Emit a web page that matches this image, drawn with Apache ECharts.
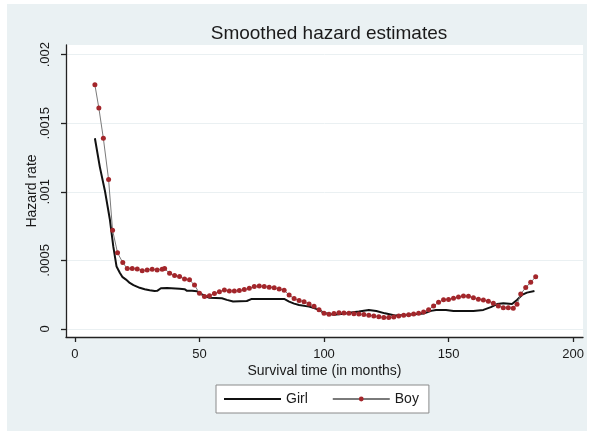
<!DOCTYPE html>
<html>
<head>
<meta charset="utf-8">
<script src="https://cdn.jsdelivr.net/npm/echarts@6/dist/echarts.min.js"></script>
<style>
html,body{margin:0;padding:0;background:#fff;}
#c{width:594px;height:431px;}
</style>
</head>
<body>
<div id="c"></div>
<script>
// ---- data ----
var titleText = 'Smoothed hazard estimates';
var xName = 'Survival time (in months)';
var yName = 'Hazard rate';
var seriesNames = ['Girl', 'Boy'];
var xTicks = [0, 50, 100, 150, 200];
var xTickLabels = ['0', '50', '100', '150', '200'];
var yTicks = [0, 0.0005, 0.001, 0.0015, 0.002];
var yTickLabels = ['0', '.0005', '.001', '.0015', '.002'];

var girlT = [8, 10, 12, 14, 15.4, 16.7, 18, 19, 20.5, 22, 23.5, 26, 28, 30, 32, 33, 34.5, 37, 42, 44, 45, 47, 49, 50, 51.5, 53, 54, 59, 61, 63.5, 69, 71, 84, 86, 88, 90, 94, 96, 98, 100, 104, 108, 111, 114, 118, 121, 124.5, 128.5, 132.5, 140, 143, 145, 149, 152, 160, 164, 167, 169.5, 172, 175.5, 177.5, 179.5, 181.5, 184.5];
var girlH = [0.00139, 0.00118, 0.00101, 0.0008, 0.0006, 0.000455, 0.00041, 0.00038, 0.00036, 0.000336, 0.00032, 0.0003, 0.00029, 0.000283, 0.000277, 0.000278, 0.000297, 0.000298, 0.000294, 0.00029, 0.000278, 0.000278, 0.000275, 0.00026, 0.000248, 0.000235, 0.000228, 0.000224, 0.000212, 0.0002, 0.000204, 0.000219, 0.000219, 0.0002, 0.000185, 0.000175, 0.000163, 0.000152, 0.00014, 0.000116, 0.000104, 0.000111, 0.00012, 0.000128, 0.000139, 0.000131, 0.000114, 0.000098, 0.000102, 0.000113, 0.000132, 0.000139, 0.000139, 0.000131, 0.000131, 0.000139, 0.000159, 0.000182, 0.000187, 0.000182, 0.000212, 0.000248, 0.000265, 0.000277];

var boyT = [8, 9.6, 11.4, 13.5, 15.1, 17.1, 19.2, 21, 23, 25, 27, 29, 31, 33, 35, 36, 38, 40, 42, 44, 46, 48, 50, 52, 54, 56, 58, 60, 62, 64, 66, 68, 70, 72, 74, 76, 78, 80, 82, 84, 86, 88, 90, 92, 94, 96, 98, 100, 102, 104, 106, 108, 110, 112, 114, 116, 118, 120, 122, 124, 126, 128, 130, 132, 134, 136, 138, 140, 142, 144, 146, 148, 150, 152, 154, 156, 158, 160, 162, 164, 166, 168, 170, 172, 174, 176, 177.5, 179, 181, 183, 185];
var boyH = [0.00178, 0.00161, 0.00139, 0.00109, 0.00072, 0.000555, 0.000484, 0.00044, 0.00044, 0.000438, 0.000425, 0.00043, 0.000435, 0.00043, 0.000435, 0.00044, 0.000406, 0.000389, 0.000382, 0.000365, 0.000358, 0.00032, 0.00026, 0.000236, 0.000243, 0.000258, 0.000272, 0.000285, 0.000277, 0.000277, 0.00028, 0.000287, 0.000297, 0.00031, 0.000313, 0.000309, 0.000305, 0.0003, 0.000292, 0.000283, 0.000247, 0.000222, 0.000207, 0.000198, 0.000183, 0.000165, 0.00014, 0.000114, 0.000108, 0.000112, 0.000118, 0.000117, 0.000114, 0.000111, 0.000109, 0.000105, 0.000101, 0.000095, 0.00009, 0.000083, 0.000083, 0.000087, 0.000094, 0.0001, 0.000104, 0.000109, 0.000115, 0.000123, 0.00014, 0.000168, 0.000195, 0.000213, 0.000215, 0.000224, 0.000233, 0.000241, 0.000238, 0.000228, 0.000217, 0.000212, 0.000203, 0.000188, 0.000168, 0.000155, 0.000154, 0.000152, 0.00018, 0.000255, 0.000302, 0.00034, 0.00038];

function zip(a, b) { return a.map(function (v, i) { return [v, b[i]]; }); }

var FONT = '"Liberation Sans", Arial, Helvetica, sans-serif';
var chart = echarts.init(document.getElementById('c'), null, {renderer: 'canvas'});
chart.setOption({
  animation: false,
  backgroundColor: '#ffffff',
  graphic: [{
    type: 'rect', z: -10, silent: true,
    shape: {x: 7, y: 4, width: 580, height: 427},
    style: {fill: '#EAF1F3'}
  }],
  title: {
    text: titleText,
    left: 324, top: 19, textAlign: 'center',
    textStyle: {fontFamily: FONT, fontSize: 19, fontWeight: 'normal', color: '#1a1a1a'}
  },
  grid: {
    left: 66, top: 45, right: 11, bottom: 94,
    show: true, backgroundColor: '#ffffff', borderWidth: 0,
    outerBoundsMode: 'none', containLabel: false
  },
  legend: {
    data: [
      {name: seriesNames[0], itemStyle: {opacity: 0}},
      {name: seriesNames[1]}
    ],
    left: 216, top: 385,
    padding: [7, 10, 7, 7],
    itemWidth: 57, itemHeight: 6, itemGap: 24,
    backgroundColor: '#ffffff', borderColor: '#8a8a8a', borderWidth: 1,
    textStyle: {fontFamily: FONT, fontSize: 14, color: '#1a1a1a', lineHeight: 14}
  },
  xAxis: {
    type: 'value', min: -3.6, max: 204,
    name: xName, nameLocation: 'middle', nameGap: 27, nameMoveOverlap: false,
    nameTextStyle: {fontFamily: FONT, fontSize: 14, color: '#1a1a1a'},
    axisLine: {show: true, onZero: false, lineStyle: {color: '#222', width: 1.3}},
    axisTick: {show: true, length: 5, customValues: xTicks, lineStyle: {color: '#222', width: 1.3}},
    axisLabel: {
      customValues: xTicks, margin: 11,
      fontFamily: FONT, fontSize: 13, color: '#1a1a1a',
      formatter: function (v) { var i = xTicks.indexOf(v); return i >= 0 ? xTickLabels[i] : ''; }
    },
    splitLine: {show: false}
  },
  yAxis: {
    type: 'value', min: -0.0000584, max: 0.00207,
    name: yName, nameLocation: 'middle', nameGap: 27, nameRotate: 90, nameMoveOverlap: false,
    nameTextStyle: {fontFamily: FONT, fontSize: 14, color: '#1a1a1a'},
    axisLine: {show: true, onZero: false, lineStyle: {color: '#222', width: 1.3}},
    axisTick: {show: true, length: 5, customValues: yTicks, lineStyle: {color: '#222', width: 1.3}},
    axisLabel: {
      customValues: yTicks, rotate: 90, margin: 14,
      fontFamily: FONT, fontSize: 13, color: '#1a1a1a',
      formatter: function (v) {
        for (var i = 0; i < yTicks.length; i++) { if (Math.abs(yTicks[i] - v) < 1e-9) return yTickLabels[i]; }
        return '';
      }
    },
    splitLine: {show: true, lineStyle: {color: '#EAF0F2', width: 1}}
  },
  series: [
    {
      name: seriesNames[0], type: 'line', data: zip(girlT, girlH),
      symbol: 'none', showSymbol: false,
      lineStyle: {color: '#111111', width: 2},
      itemStyle: {color: '#111111'}, z: 3
    },
    {
      name: seriesNames[1], type: 'line', data: zip(boyT, boyH),
      symbol: 'circle', symbolSize: 5, showSymbol: true,
      lineStyle: {color: '#7a7a7a', width: 1},
      itemStyle: {color: '#A3262B', borderWidth: 0}, z: 4
    }
  ]
});
</script>
</body>
</html>
